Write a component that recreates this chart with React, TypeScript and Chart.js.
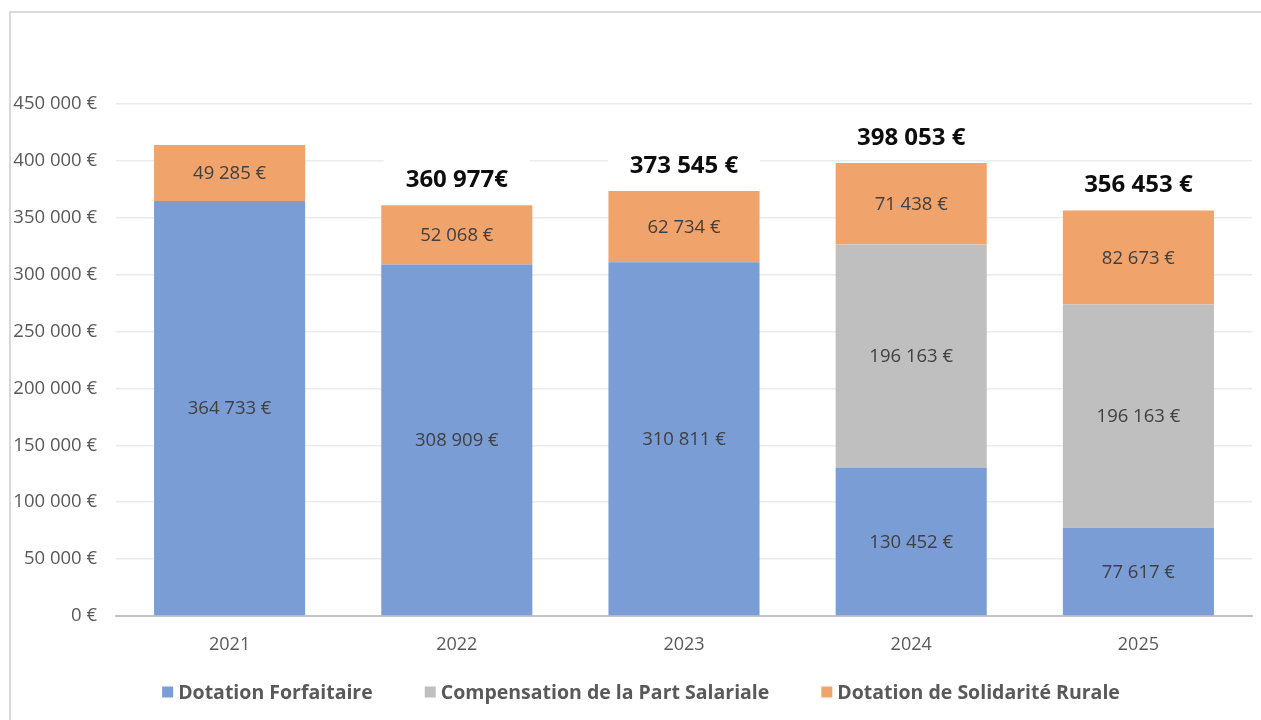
import React, { useEffect, useRef } from "react";
import { Chart, registerables } from "chart.js";

Chart.register(...registerables);

const categories = ["2021", "2022", "2023", "2024", "2025"];
const dotationForfaitaire = [364733, 308909, 310811, 130452, 77617];
const compensationPartSalariale = [null, null, null, 196163, 196163];
const dotationSolidariteRurale = [49285, 52068, 62734, 71438, 82673];
const totalLabels = [null, "360 977€", "373 545 €", "398 053 €", "356 453 €"];
const seriesNames = [
  "Dotation Forfaitaire",
  "Compensation de la Part Salariale",
  "Dotation de Solidarité Rurale",
];
const seriesColors = ["#7b9dd5", "#bfbfbf", "#f0a46c"];

const FONT = "'Open Sans', 'Noto Sans', sans-serif";

function fmt(n: number): string {
  return String(Math.round(n)).replace(/\B(?=(\d{3})+(?!\d))/g, " ") + " €";
}

const labelPlugin = {
  id: "segLabels",
  afterDatasetsDraw(chart: any) {
    const ctx = chart.ctx;
    ctx.save();
    ctx.textAlign = "center";
    ctx.textBaseline = "middle";
    ctx.font = `18.5px ${FONT}`;
    ctx.fillStyle = "#404040";
    chart.data.datasets.forEach((ds: any, di: number) => {
      const meta = chart.getDatasetMeta(di);
      meta.data.forEach((bar: any, i: number) => {
        const v = ds.data[i];
        if (v == null) return;
        const y = (bar.y + bar.base) / 2;
        ctx.fillText(fmt(v), bar.x, y + 1);
      });
    });
    // totals
    const lastMeta = chart.getDatasetMeta(chart.data.datasets.length - 1);
    ctx.font = `bold 24px ${FONT}`;
    lastMeta.data.forEach((bar: any, i: number) => {
      const t = totalLabels[i];
      if (!t) return;
      const cy = bar.y - 26;
      const w = ctx.measureText(t).width + 44;
      const h = 44;
      ctx.fillStyle = "#ffffff";
      ctx.fillRect(bar.x - w / 2, cy - h / 2, w, h);
      ctx.fillStyle = "#0d0d0d";
      ctx.fillText(t, bar.x, cy + 1);
    });
    ctx.restore();
  },
  afterDraw(chart: any) {
    // legend
    const ctx = chart.ctx;
    ctx.save();
    ctx.font = `bold 19.5px ${FONT}`;
    ctx.textBaseline = "middle";
    ctx.textAlign = "left";
    const box = 11;
    const gapText = 5;
    const gapItem = 52;
    const widths = seriesNames.map((n) => ctx.measureText(n).width);
    const total =
      widths.reduce((a, b) => a + b, 0) + seriesNames.length * (box + gapText) + gapItem * (seriesNames.length - 1);
    let x = 641 - total / 2;
    const cy = 692;
    seriesNames.forEach((n, i) => {
      ctx.fillStyle = seriesColors[i];
      ctx.fillRect(x, cy - box / 2, box, box);
      ctx.fillStyle = "#595959";
      ctx.fillText(n, x + box + gapText, cy + 1);
      x += box + gapText + widths[i] + gapItem;
    });
    ctx.restore();
  },
};

export default function App() {
  const ref = useRef<HTMLCanvasElement>(null);
  useEffect(() => {
    if (!ref.current) return;
    Chart.defaults.font.family = FONT;
    const chart = new Chart(ref.current, {
      type: "bar",
      data: {
        labels: categories,
        datasets: [
          { label: seriesNames[0], data: dotationForfaitaire, backgroundColor: seriesColors[0] },
          { label: seriesNames[1], data: compensationPartSalariale as any, backgroundColor: seriesColors[1] },
          { label: seriesNames[2], data: dotationSolidariteRurale, backgroundColor: seriesColors[2] },
        ].map((d) => ({ ...d, categoryPercentage: 1, barPercentage: 0.665, borderWidth: 0 })),
      },
      options: {
        responsive: false,
        animation: false,
        layout: { padding: { left: 0, right: 9, top: 104, bottom: 0 } },
        plugins: {
          legend: { display: false },
          tooltip: { enabled: false },
        },
        scales: {
          x: {
            stacked: true,
            grid: { display: false, drawTicks: false },
            border: { color: "#c4c4c4", width: 2 },
            ticks: { color: "#595959", font: { size: 18 }, padding: 18 },
            afterFit: (s: any) => {
              s.height = 104;
            },
          },
          y: {
            stacked: true,
            min: 0,
            max: 450000,
            grid: { color: "#ebebeb", lineWidth: 1.5, drawTicks: false },
            border: { display: false },
            ticks: {
              stepSize: 50000,
              color: "#595959",
              font: { size: 18.5 },
              padding: 19,
              callback: (v: any) => fmt(Number(v)),
            },
            afterFit: (s: any) => {
              s.width = 116;
            },
          },
        },
      },
      plugins: [labelPlugin],
    });
    return () => chart.destroy();
  }, []);
  return (
    <div style={{ position: "fixed", left: 0, top: 0, width: 1261, height: 720, background: "#fff", overflow: "hidden" }}>
      <div
        style={{
          position: "absolute",
          left: 9,
          top: 11,
          width: 1300,
          height: 800,
          borderLeft: "2px solid #d9d9d9",
          borderTop: "2px solid #d9d9d9",
        }}
      />
      <canvas ref={ref} width={1261} height={720} style={{ position: "absolute", left: 0, top: 0 }} />
    </div>
  );
}
